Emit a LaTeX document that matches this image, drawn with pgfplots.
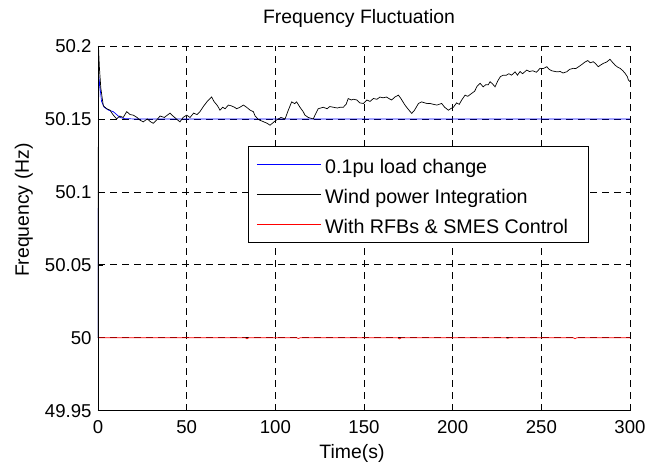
\documentclass[border=0pt]{standalone}
\usepackage{pgfplots}
\usepackage{pgfplotstable}
\pgfplotsset{compat=1.18}
\usepackage{fontspec}
\setmainfont{Liberation Sans}

\pgfplotstableread{
t f
0 50.0
0.4 50.18
1.1 50.172
2 50.162
3.5 50.158
6 50.156
8.6 50.155
10.5 50.153
12.4 50.151
15 50.1502
20 50.15
300 50.15
}\loadtab

\pgfplotstableread{
t f
0 50.0
0.3 50.199
0.8 50.185
1.6 50.171
3.0 50.159
4.9 50.157
6.8 50.156
8.4 50.153
10.5 50.150
12.3 50.152
14.2 50.151
16.2 50.155
18.1 50.153
19.9 50.1526
22.0 50.151
23.9 50.149
25.5 50.148
27.8 50.150
29.7 50.148
31.2 50.147
33.6 50.150
35.0 50.152
37.4 50.151
40.6 50.154
42.3 50.152
44.2 50.150
46.2 50.148
48.0 50.151
50.0 50.1526
51.9 50.151
53.9 50.154
55.8 50.153
57.5 50.155
59.7 50.159
61.6 50.162
64.1 50.165
65.4 50.162
67.4 50.159
68.8 50.156
70.3 50.158
71.7 50.157
73.5 50.1595
75.1 50.159
77.0 50.158
78.2 50.157
80.0 50.158
82.0 50.1595
83.8 50.158
85.8 50.156
87.6 50.155
88.6 50.152
90.4 50.1497
91.5 50.149
93.5 50.148
95.4 50.147
97.0 50.1457
98.3 50.147
100.3 50.149
101.7 50.150
103.2 50.151
105.5 50.150
107.0 50.155
109.2 50.1617
110.9 50.1605
112.0 50.1617
113.9 50.158
115.7 50.155
116.7 50.1526
118.6 50.151
121.4 50.150
122.5 50.153
124.2 50.157
127.0 50.158
129.2 50.157
130.7 50.1585
132.7 50.158
135.0 50.1575
136.5 50.158
138.3 50.158
139.9 50.160
141.1 50.164
142.8 50.163
144.2 50.1635
145.9 50.163
147.6 50.161
149.6 50.1606
151.6 50.163
153.4 50.162
155.3 50.164
157.3 50.1635
159.0 50.165
160.7 50.1645
162.8 50.165
164.0 50.164
165.6 50.163
167.4 50.165
169.4 50.1663
170.8 50.164
173.1 50.1595
174.7 50.157
176.9 50.1538
178.5 50.156
180.7 50.1606
182.5 50.1617
184.3 50.161
185.8 50.1605
187.2 50.1606
189.2 50.160
191.1 50.1595
193.8 50.1606
195.5 50.158
197.6 50.156
198.8 50.157
200.4 50.158
202.2 50.161
203.7 50.160
205.1 50.163
207.0 50.1663
208.5 50.1655
210.7 50.1675
212.4 50.169
213.8 50.1725
215.5 50.1744
217.2 50.172
218.7 50.1735
220.1 50.1735
221.1 50.1755
222.5 50.174
223.9 50.172
225.4 50.176
226.9 50.179
228.6 50.180
230.3 50.180
231.7 50.181
233.2 50.180
235.2 50.1823
236.5 50.180
238.0 50.1825
239.4 50.181
241.8 50.1835
243.3 50.1825
245.2 50.183
247.2 50.182
249.3 50.1847
251.0 50.1845
253.1 50.1858
254.4 50.184
255.9 50.183
258.7 50.1823
260.7 50.1825
262.2 50.1815
264.3 50.1823
266.0 50.184
268.1 50.1847
269.4 50.1845
271.3 50.186
273.0 50.1875
274.6 50.189
276.2 50.190
277.6 50.1885
279.3 50.1892
280.5 50.188
282.1 50.1858
283.5 50.187
285.0 50.1881
286.8 50.189
288.7 50.1909
290.0 50.189
291.5 50.187
293.0 50.1855
294.4 50.1847
296.0 50.183
297.2 50.1813
298.5 50.179
299.1 50.1767
300 50.1755
}\windtab

\pgfplotstableread{
t f
0 50.0
40 50.0
83 50.0
84 49.9993
85 50.0
112 50.0
113 49.9995
114 50.0
169 50.0
170 49.9992
171 50.0
230 50.0
231 49.9996
232 50.0
268 50.0
269 49.9994
270 50.0
300 50.0
}\smestab

\begin{document}
\fontsize{19pt}{22pt}\selectfont
\begin{tikzpicture}[x=1pt,y=1pt]
\useasboundingbox (0,0) rectangle (648,463);
\begin{axis}[
  at={(98pt,52.3pt)}, anchor=south west,
  scale only axis, width=532pt, height=364.7pt,
  xmin=0, xmax=300, ymin=49.95, ymax=50.2,
  xtick={0,50,100,150,200,250,300},
  xticklabels={0,50,100,150,200,250,300},
  ytick={49.95,50,50.05,50.1,50.15,50.2},
  yticklabels={49.95,50,50.05,50.1,50.15,50.2},
  xtick pos=left, ytick pos=left,
  tick align=inside, major tick length=5pt,
  tick style={black, line width=0.6pt},
  axis line style={draw=none},
  grid=major,
  major grid style={black, line width=0.7pt, dash pattern=on 7pt off 5pt},
  ticklabel style={font=\fontsize{18.6pt}{22pt}\selectfont},
  xticklabel style={anchor=base, yshift=-22.9pt},
  yticklabel style={anchor=east, inner xsep=0pt, xshift=-6.3pt},
  title={Frequency Fluctuation},
  title style={at={(axis description cs:0.4906,1.0458)}, anchor=base, font=\fontsize{19.4pt}{22pt}\selectfont},
  xlabel={Time(s)},
  xlabel style={at={(axis description cs:0.4774,-0.1297)}, anchor=base, font=\fontsize{19.4pt}{22pt}\selectfont},
  ylabel={Frequency (Hz)},
  ylabel style={at={(axis description cs:-0.1297,0.55)}, anchor=base, font=\fontsize{19.4pt}{22pt}\selectfont},
  legend style={at={(axis description cs:0.282,0.7258)}, anchor=north west,
    draw=black, line width=1pt, fill=white,
    inner xsep=8pt, inner ysep=7.2pt, row sep=8pt, column sep=0pt,
    font=\fontsize{19.7pt}{22pt}\selectfont,
    nodes={inner xsep=4pt, inner ysep=2pt, text height=18pt, text depth=0pt}},
  legend cell align=left,
  legend image code/.code={\draw[line width=0.6pt,#1] (0pt,0pt) -- (64pt,0pt);},
  extra description/.code={\draw[black, line width=0.8pt] (rel axis cs:0,1) -- (rel axis cs:0,0) -- (rel axis cs:1,0);},
]
\addplot[color=blue, line width=0.7pt] table[x=t,y=f] {\loadtab};
\addlegendentry{\makebox[251pt][l]{0.1pu load change}}
\addplot[color=black, line width=0.7pt] table[x=t,y=f] {\windtab};
\addlegendentry{\makebox[251pt][l]{Wind power Integration}}
\addplot[color=red, line width=0.7pt] table[x=t,y=f] {\smestab};
\addlegendentry{\makebox[251pt][l]{With RFBs \& SMES Control}}
\end{axis}
\end{tikzpicture}
\end{document}
